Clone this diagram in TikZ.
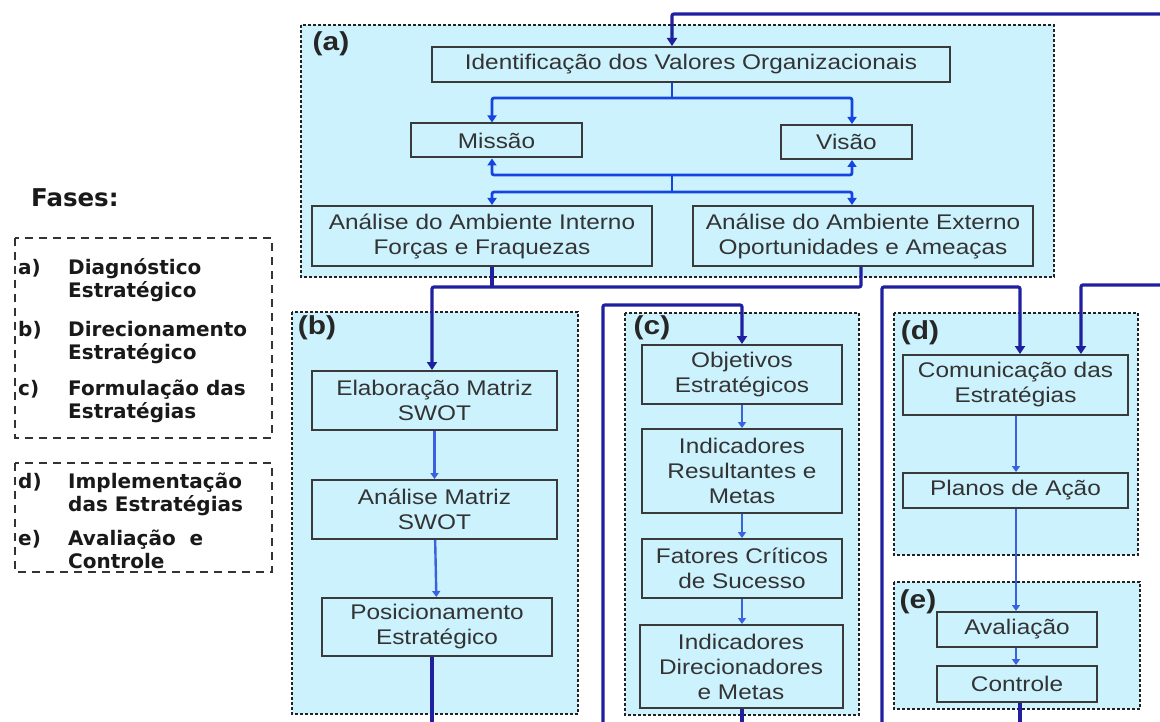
\documentclass[tikz,border=0pt]{standalone}
\usepackage{fontspec}
\usetikzlibrary{arrows.meta}
\newfontfamily\boxfont[FakeStretch=1.15]{Liberation Sans}
\newfontfamily\legfont{DejaVu Sans}
\definecolor{cyanfill}{HTML}{CCF2FE}
\definecolor{boxborder}{HTML}{3A3A3A}
\definecolor{panelborder}{HTML}{222222}
\definecolor{textgray}{HTML}{333333}
\definecolor{navy}{HTML}{1F1FA0}
\definecolor{brightblue}{HTML}{1544E0}
\definecolor{midblue}{HTML}{3A62DE}
\definecolor{legborder}{HTML}{333333}
\tikzset{
  panel/.style={draw=panelborder, line width=1.3pt, dash pattern=on 3pt off 2pt, fill=cyanfill},
  legbox/.style={draw=legborder, line width=1.8pt, dash pattern=on 8pt off 6pt},
  box/.style={draw=boxborder, line width=2pt, fill=cyanfill, inner sep=0pt, align=center,
    font=\boxfont\fontsize{21.2}{25}\selectfont, text=textgray},
  plabel/.style={font=\boxfont\bfseries\fontsize{26}{30}\selectfont, text=black!85, inner sep=0pt},
  legtext/.style={font=\legfont\bfseries\fontsize{20}{24}\selectfont, text=black!90, inner sep=0pt, anchor=base west},
  mainline/.style={draw=navy, line width=3.2pt, rounded corners=2pt},
  aline/.style={draw=brightblue, line width=2.8pt, rounded corners=2pt},
  inline/.style={draw=midblue, line width=2.4pt},
  mtip/.style={-{Triangle[length=8pt,width=10pt]}},
  atip/.style={-{Triangle[length=7pt,width=9pt]}},
  atiptwo/.style={{Triangle[length=7pt,width=9pt]}-{Triangle[length=7pt,width=9pt]}},
  itip/.style={-{Triangle[length=6pt,width=8pt]}}
}
\begin{document}
\begin{tikzpicture}[x=1pt,y=-1pt]
\useasboundingbox (0,0) rectangle (1160,722);
\fill[white] (0,0) rectangle (1160,722);

% legend
\node[legtext, font=\legfont\bfseries\fontsize{24.5}{29}\selectfont] (fases) at (31,207) {Fases:};
\draw[legbox] (15,238) rectangle (272,438);
\draw[legbox] (15,463) rectangle (272,572);
\node[legtext] (la) at (18,275) {a)};
\node[legtext] (la1) at (68,275) {Diagnóstico};
\node[legtext] (la2) at (68,298) {Estratégico};
\node[legtext] (lb) at (18,336) {b)};
\node[legtext] (lb1) at (68,336) {Direcionamento};
\node[legtext] (lb2) at (68,359) {Estratégico};
\node[legtext] (lc) at (18,395) {c)};
\node[legtext] (lc1) at (68,395) {Formulação das};
\node[legtext] (lc2) at (68,418) {Estratégias};
\node[legtext] (ld) at (18,488) {d)};
\node[legtext] (ld1) at (68,488) {Implementação};
\node[legtext] (ld2) at (68,511) {das Estratégias};
\node[legtext] (le) at (18,545) {e)};
\node[legtext] (le1) at (68,545) {Avaliação\ \ e};
\node[legtext] (le2) at (68,568) {Controle};

% panels
\draw[panel] (301,25) rectangle (1054,277);
\draw[panel] (292,312) rectangle (578,714);
\draw[panel] (625,313) rectangle (859,715);
\draw[panel] (894,313) rectangle (1138,555);
\draw[panel] (894,582) rectangle (1140,709);

\node[plabel] (pa) at (331,44) {(a)};
\node[plabel] (pb) at (317,328) {(b)};
\node[plabel] (pc) at (652,328) {(c)};
\node[plabel] (pd) at (920,333) {(d)};
\node[plabel] (pe) at (918,602) {(e)};

% boxes
\node[box, minimum width=518, minimum height=35] (ident) at (691,64.5) {Identificação dos Valores Organizacionais};
\node[box, minimum width=171, minimum height=34] (missao) at (496.5,140.5) {Missão};
\node[box, minimum width=131, minimum height=34] (visao) at (846.5,142) {Visão};
\node[box, minimum width=340, minimum height=60] (intern) at (482,236) {Análise do Ambiente Interno\\Forças e Fraquezas};
\node[box, minimum width=340, minimum height=60] (extern) at (863,236) {Análise do Ambiente Externo\\Oportunidades e Ameaças};

\node[box, minimum width=245, minimum height=59] (elab) at (434.5,400.5) {Elaboração Matriz\\SWOT};
\node[box, minimum width=245, minimum height=59] (anal) at (434.5,509.5) {Análise Matriz\\SWOT};
\node[box, minimum width=230, minimum height=58] (posic) at (437,627) {Posicionamento\\Estratégico};

\node[box, minimum width=200, minimum height=59] (obj) at (742,374.5) {Objetivos\\Estratégicos};
\node[box, minimum width=200, minimum height=84] (indres) at (742,471) {Indicadores\\Resultantes e\\Metas};
\node[box, minimum width=200, minimum height=59] (fat) at (742,568.5) {Fatores Críticos\\de Sucesso};
\node[box, minimum width=203, minimum height=83] (inddir) at (741,666.5) {Indicadores\\Direcionadores\\e Metas};

\node[box, minimum width=225, minimum height=60] (com) at (1015.5,385) {Comunicação das\\Estratégias};
\node[box, minimum width=225, minimum height=35] (planos) at (1015.5,490.5) {Planos de Ação};
\node[box, minimum width=160, minimum height=35] (aval) at (1017,629.5) {Avaliação};
\node[box, minimum width=160, minimum height=36] (contr) at (1017,684) {Controle};

% coordinates
\coordinate (r1) at (1160,14);
\coordinate (xa) at (672,14);
\coordinate (j1) at (672,98);
\coordinate (j1l) at (492,98);
\coordinate (j1r) at (852,98);
\coordinate (j2) at (672,175);
\coordinate (j2l) at (492,175);
\coordinate (j2r) at (852,175);
\coordinate (j3) at (672,192);
\coordinate (j3l) at (492,192);
\coordinate (j3r) at (852,192);
\coordinate (k0) at (432,287);
\coordinate (k1) at (492,287);
\coordinate (k2) at (861,287);
\coordinate (bot1) at (432,722);
\coordinate (c0) at (603,722);
\coordinate (c1) at (603,305);
\coordinate (c2) at (742,305);
\coordinate (bot2) at (742,722);
\coordinate (d0) at (882,722);
\coordinate (d1) at (882,287);
\coordinate (d2) at (1020,287);
\coordinate (r2) at (1160,285);
\coordinate (d3) at (1081,285);
\coordinate (xd) at (1016,0);
\coordinate (bot3) at (1020,722);

% panel (a) connectors
\draw[mainline, mtip] (r1) -- (xa) -- (xa |- ident.north);
\draw[aline] (xa |- ident.south) -- (j1);
\draw[aline, atip] (j1) -- (j1l) -- (j1l |- missao.north);
\draw[aline, atip] (j1) -- (j1r) -- (j1r |- visao.north);
\draw[aline, atiptwo] (j2l |- missao.south) -- (j2l) -- (j2r) -- (j2r |- visao.south);
\draw[aline] (j2) -- (j3);
\draw[aline, atiptwo] (j3l |- intern.north) -- (j3l) -- (j3r) -- (j3r |- extern.north);

% (a) -> (b)
\draw[mainline] (k1 |- intern.south) -- (k1);
\draw[mainline, mtip] (k2 |- extern.south) -- (k2) -- (k0) -- (k0 |- elab.north);

% panel (b)
\draw[inline, itip] (elab) -- (anal);
\draw[inline, itip] (anal) -- (posic);
\draw[mainline] (k0 |- posic.south) -- (bot1);

% panel (c)
\draw[mainline, mtip] (c0) -- (c1) -- (c2) -- (c2 |- obj.north);
\draw[inline, itip] (obj) -- (indres);
\draw[inline, itip] (indres) -- (fat);
\draw[inline, itip] (fat) -- (fat.south |- inddir.north);
\draw[mainline] (bot2 |- inddir.south) -- (bot2);

% panel (d) and (e)
\draw[mainline, mtip] (d0) -- (d1) -- (d2) -- (d2 |- com.north);
\draw[mainline, mtip] (r2) -- (d3) -- (d3 |- com.north);
\draw[inline, itip] (xd |- com.south) -- (xd |- planos.north);
\draw[inline, itip] (xd |- planos.south) -- (xd |- aval.north);
\draw[inline, itip] (xd |- aval.south) -- (xd |- contr.north);
\draw[mainline] (bot3 |- contr.south) -- (bot3);
\end{tikzpicture}
\end{document}
